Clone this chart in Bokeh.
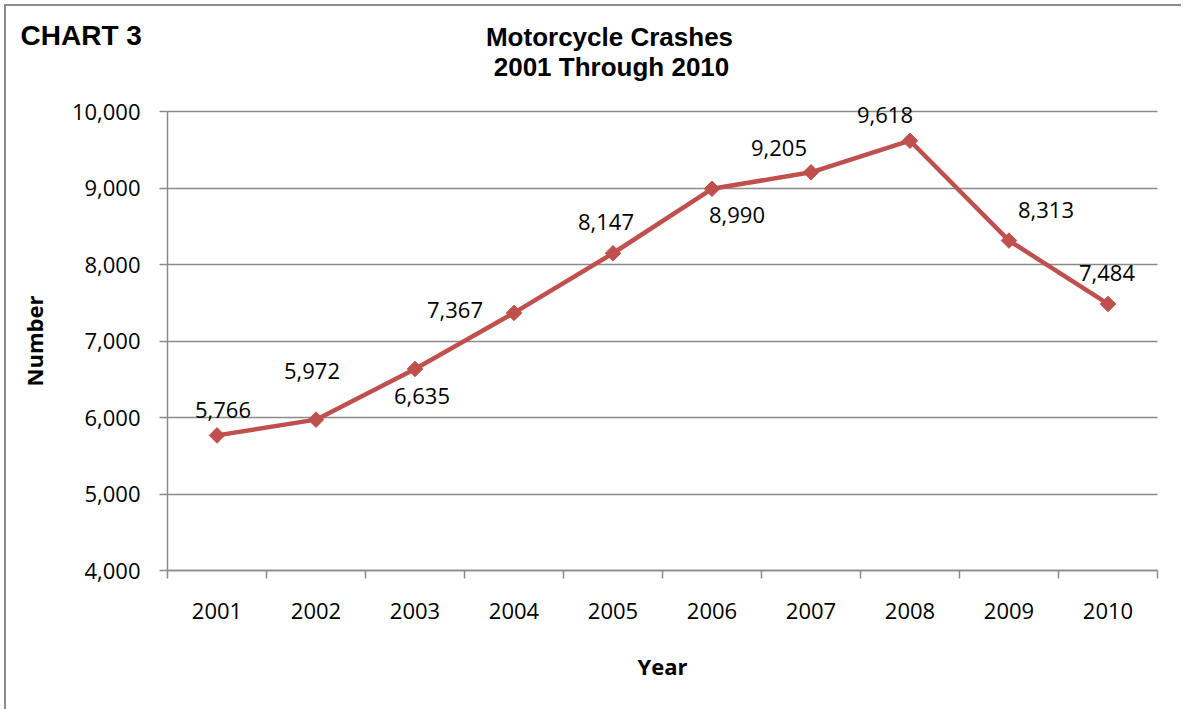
from bokeh.plotting import figure
from bokeh.models import ColumnDataSource, FixedTicker, NumeralTickFormatter, Range1d, Grid
from bokeh.embed import file_html
from bokeh.resources import INLINE

# ---- data ----
years = [2001, 2002, 2003, 2004, 2005, 2006, 2007, 2008, 2009, 2010]
crashes = [5766, 5972, 6635, 7367, 8147, 8990, 9205, 9618, 8313, 7484]
value_labels = ["5,766", "5,972", "6,635", "7,367", "8,147", "8,990", "9,205", "9,618", "8,313", "7,484"]
year_labels = ["2001", "2002", "2003", "2004", "2005", "2006", "2007", "2008", "2009", "2010"]
y_ticks = [4000, 5000, 6000, 7000, 8000, 9000, 10000]
chart_tag = "CHART 3"
title_lines = ["Motorcycle Crashes", "2001 Through 2010"]

# label placement offsets (pixels, style only)
label_dx = [6, -4, 7, -59, -7, 25, -32, -25, 37, -1]
label_dy = [-25, -49, 27, -3, -31, 26, -24, -26, -31, -31]

RED = "#C0504D"
GRID = "#8a8a8a"
FONT = "Open Sans"
TITLE_FONT = "Liberation Sans"

# ---- layout (canvas pixels) ----
CW, CH = 1177, 705
AREA_L, AREA_R, AREA_T, AREA_B = 161, 1151, 105, 564

x_lo, x_hi = years[0] - 0.5, years[-1] + 0.5
y_lo, y_hi = y_ticks[0], y_ticks[-1]
kx = (AREA_R - AREA_L) / (x_hi - x_lo)
ky = (AREA_B - AREA_T) / (y_hi - y_lo)
x_start, x_end = x_lo - AREA_L / kx, x_hi + (CW - AREA_R) / kx
y_start, y_end = y_lo - (CH - AREA_B) / ky, y_hi + AREA_T / ky


def at(px, py):
    """canvas pixel -> data coordinate (for layout of title texts)"""
    return x_start + px / kx, y_end - py / ky


p = figure(width=CW, height=CH, output_backend="svg", toolbar_location=None,
           x_range=Range1d(x_start, x_end), y_range=Range1d(y_start, y_end),
           min_border=0)
p.outline_line_color = None
p.styles = {"border-left": "2px solid #8c8c8c", "border-top": "2px solid #8c8c8c",
            "border-right": "none", "border-bottom": "none",
            "margin-left": "4px", "margin-top": "4px"}

# grid lines restricted to the plot area
p.xgrid.grid_line_color = None
p.ygrid.grid_line_color = None
if "cross_bounds" in Grid.properties():
    g = Grid(dimension=1, ticker=FixedTicker(ticks=y_ticks), bounds=(y_lo, y_hi),
             cross_bounds=(x_lo, x_hi), grid_line_color=GRID, grid_line_width=1.5)
    p.add_layout(g)
else:
    p.segment(x0=[x_lo] * len(y_ticks), y0=y_ticks, x1=[x_hi] * len(y_ticks), y1=y_ticks,
              line_color=GRID, line_width=1.5)

src = ColumnDataSource(dict(x=years, y=crashes, lab=value_labels, dx=label_dx, dy=label_dy))
p.line("x", "y", source=src, line_color=RED, line_width=4.5)
p.scatter("x", "y", source=src, marker="square", angle=0.785398, size=11,
          fill_color=RED, line_color=RED)
p.text("x", "y", text="lab", source=src, x_offset="dx", y_offset="dy",
       text_align="center", text_baseline="middle", text_font_size="22px",
       text_font={"value": FONT}, text_color="black")

# title texts
tx, ty = at(14, 29)
p.text(x=[tx], y=[ty], text=[chart_tag], text_font={"value": TITLE_FONT},
       text_font_style="bold", text_font_size="28px", text_align="left",
       text_baseline="middle", text_color="black")
t1 = at(603, 30)
t2 = at(605, 60)
p.text(x=[t1[0], t2[0]], y=[t1[1], t2[1]], text=title_lines, text_font={"value": TITLE_FONT},
       text_font_style="bold", text_font_size="26px", text_align="center",
       text_baseline="middle", text_color="black")

# y axis
p.yaxis.fixed_location = x_lo
p.yaxis.bounds = (y_lo, y_hi)
p.yaxis.ticker = FixedTicker(ticks=y_ticks)
p.yaxis.formatter = NumeralTickFormatter(format="0,0")
p.yaxis.axis_line_color = GRID
p.yaxis.axis_line_width = 1.5
p.yaxis.major_tick_line_color = GRID
p.yaxis.major_tick_line_width = 1.5
p.yaxis.major_tick_out = 8
p.yaxis.major_tick_in = 0
p.yaxis.minor_tick_line_color = None
p.yaxis.major_label_text_font = FONT
p.yaxis.major_label_text_font_size = "22px"
p.yaxis.major_label_text_color = "black"
p.yaxis.major_label_standoff = 19
p.yaxis.axis_label = "Number"
p.yaxis.axis_label_text_font = FONT
p.yaxis.axis_label_text_font_style = "bold"
p.yaxis.axis_label_text_font_size = "22px"
p.yaxis.axis_label_text_color = "black"
p.yaxis.axis_label_standoff = 20

# x axis
boundaries = [y - 0.5 for y in years] + [years[-1] + 0.5]
p.xaxis.fixed_location = y_lo
p.xaxis.bounds = (x_lo, x_hi)
p.xaxis.ticker = FixedTicker(ticks=years, minor_ticks=boundaries)
p.xaxis.major_label_overrides = {y: s for y, s in zip(years, year_labels)}
p.xaxis.axis_line_color = GRID
p.xaxis.axis_line_width = 1.5
p.xaxis.major_tick_line_color = None
p.xaxis.minor_tick_line_color = GRID
p.xaxis.minor_tick_line_width = 1.5
p.xaxis.minor_tick_out = 8
p.xaxis.minor_tick_in = 0
p.xaxis.major_tick_out = 8
p.xaxis.major_label_text_font = FONT
p.xaxis.major_label_text_font_size = "22px"
p.xaxis.major_label_text_color = "black"
p.xaxis.major_label_standoff = 24
p.xaxis.axis_label = "Year"
p.xaxis.axis_label_text_font = FONT
p.xaxis.axis_label_text_font_style = "bold"
p.xaxis.axis_label_text_font_size = "22px"
p.xaxis.axis_label_text_color = "black"
p.xaxis.axis_label_standoff = 29

open("out.html", "w").write(file_html(p, INLINE))
